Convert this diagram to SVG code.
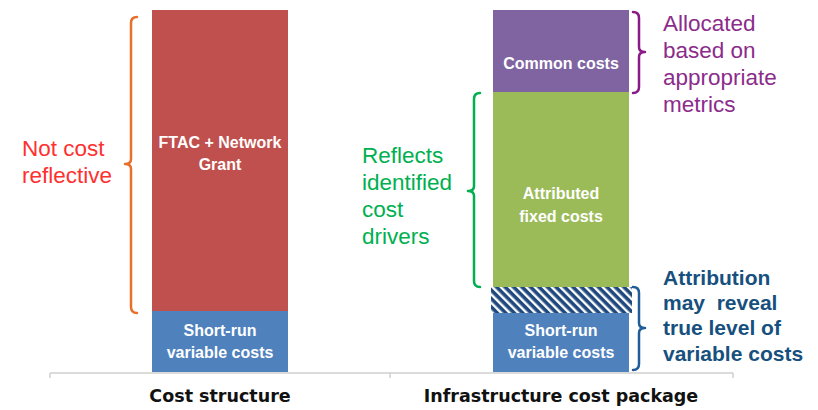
<svg xmlns="http://www.w3.org/2000/svg" width="818" height="410" viewBox="0 0 818 410">
<style>
.bl{font-family:"Liberation Sans",Arial,sans-serif;font-weight:bold;font-size:16px;fill:#fff;text-anchor:middle}
.ax{font-family:"DejaVu Sans",sans-serif;font-weight:bold;font-size:17.5px;fill:#111;text-anchor:middle}
.an{font-family:"Liberation Sans",Arial,sans-serif;font-size:22.5px}
.anb{font-family:"Liberation Sans",Arial,sans-serif;font-size:21px;font-weight:bold;fill:#17507e}
.br{fill:none;stroke-width:2.5;stroke-linecap:round;stroke-linejoin:round}
</style>
<defs>
<pattern id="hatch" width="6" height="6" patternUnits="userSpaceOnUse" patternTransform="rotate(-45)">
<rect width="6" height="6" fill="#1f497d"/>
<rect x="0" y="0" width="2.4" height="6" fill="#fff"/>
</pattern>
</defs>
<rect width="818" height="410" fill="#fff"/>
<g id="axis">
<path d="M50,373 H733 M50,373 V378 M390,373 V378 M733,373 V378" stroke="#d0d0d0" stroke-width="1.5" fill="none"/>
<text class="ax" x="220" y="402">Cost structure</text>
<text class="ax" x="561" y="402">Infrastructure cost package</text>
</g>
<g id="ftac">
<rect x="152" y="10" width="136" height="301" fill="#c0504d"/>
<text class="bl" x="220" y="148">FTAC + Network</text>
<text class="bl" x="220" y="170">Grant</text>
</g>
<g id="srvc-left">
<rect x="152" y="311" width="136" height="61" fill="#4f81bd"/>
<text class="bl" x="220" y="336">Short-run</text>
<text class="bl" x="220" y="358">variable costs</text>
</g>
<g id="common">
<rect x="493" y="10" width="136" height="82" fill="#8064a2"/>
<text class="bl" x="561" y="69">Common costs</text>
</g>
<g id="attributed">
<rect x="493" y="92" width="136" height="195" fill="#9bbb59"/>
<text class="bl" x="561" y="199">Attributed</text>
<text class="bl" x="561" y="222">fixed costs</text>
</g>
<g id="hatched">
<rect x="491" y="287" width="141" height="26" fill="url(#hatch)"/>
</g>
<g id="srvc-right">
<rect x="493" y="313" width="136" height="59" fill="#4f81bd"/>
<text class="bl" x="561" y="336">Short-run</text>
<text class="bl" x="561" y="358">variable costs</text>
</g>
<g id="connectors">
<path class="br" stroke="#e8702a" d="M137,17 Q131,17 131,23 L131,159 Q131,164 125,164 Q131,164 131,169 L131,307 Q131,313 137,313"/>
<path class="br" stroke="#00b050" d="M480,93 Q474,93 474,99 L474,186 Q474,191 468,191 Q474,191 474,196 L474,281 Q474,287 480,287"/>
<path class="br" stroke="#8b1a89" d="M633,12 Q639,12 639,18 L639,47 Q639,52 645,52 Q639,52 639,57 L639,87 Q639,93 633,93"/>
<path class="br" stroke="#1f5c99" d="M633,287 Q639,287 639,293 L639,323 Q639,328 645,328 Q639,328 639,333 L639,364 Q639,370 633,370"/>
</g>
<g id="note-left">
<text class="an" fill="#ff3030" x="22" y="156">Not cost</text>
<text class="an" fill="#ff3030" x="22" y="183">reflective</text>
</g>
<g id="note-green">
<text class="an" fill="#00b050" x="362" y="163">Reflects</text>
<text class="an" fill="#00b050" x="362" y="190">identified</text>
<text class="an" fill="#00b050" x="362" y="217">cost</text>
<text class="an" fill="#00b050" x="362" y="244">drivers</text>
</g>
<g id="note-purple">
<text class="an" fill="#8b2c8b" x="663" y="31">Allocated</text>
<text class="an" fill="#8b2c8b" x="663" y="58">based on</text>
<text class="an" fill="#8b2c8b" x="663" y="85">appropriate</text>
<text class="an" fill="#8b2c8b" x="663" y="112">metrics</text>
</g>
<g id="note-blue">
<text class="anb" x="663" y="285">Attribution</text>
<text class="anb" x="663" y="310">may&#160;&#160;reveal</text>
<text class="anb" x="663" y="335">true level of</text>
<text class="anb" x="663" y="361">variable costs</text>
</g>
</svg>
